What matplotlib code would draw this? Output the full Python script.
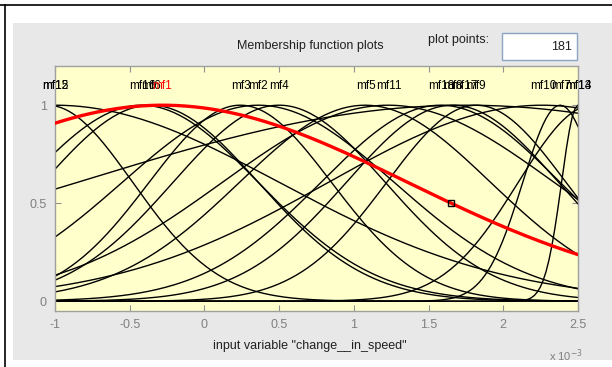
import numpy as np
import matplotlib
matplotlib.use("Agg")
import matplotlib.pyplot as plt
from matplotlib.patches import Rectangle
from matplotlib.lines import Line2D

# ---- data (x in units of 1e-3) ----
mf_names   = ["mf1", "mf2", "mf3", "mf4", "mf5", "mf6", "mf7", "mf8", "mf9",
              "mf10", "mf11", "mf12", "mf13", "mf14", "mf15", "mf16", "mf17", "mf18"]
mf_centers = [-0.28, 0.36, 0.24, 0.50, 1.075, -0.36, 2.38, 1.66, 1.82,
              2.26, 1.23, -1.00, 2.50, 2.60, -1.05, -0.42, 1.75, 1.58]
mf_sigmas  = [1.64, 0.91, 0.61, 0.71, 0.84, 0.72, 0.25, 0.71, 0.60,
              1.43, 1.11, 1.50, 0.11, 0.50, 0.57, 0.78, 2.60, 0.80]
selected_mf = "mf1"
marker_x = 1.65
x_range = (-1.0, 2.5)
plot_points = 181
x_ticks = [-1, -0.5, 0, 0.5, 1, 1.5, 2, 2.5]
x_tick_labels = ["-1", "-0.5", "0", "0.5", "1", "1.5", "2", "2.5"]
y_ticks = [0, 0.5, 1]
y_tick_labels = ["0", "0.5", "1"]

W, H = 612, 367
fig = plt.figure(figsize=(W / 100, H / 100), dpi=100)
fig.patch.set_facecolor("white")
plt.rcParams['font.family'] = ['Liberation Sans', 'DejaVu Sans']

def fx(px):
    return px / W

def fy(py):
    return 1 - py / H

# frame lines and gray panel
fig.add_artist(Line2D([0, 1], [fy(5), fy(5)], color="black", lw=1.2))
fig.add_artist(Line2D([fx(5), fx(5)], [fy(5), 0], color="black", lw=1.2))
fig.add_artist(Rectangle((fx(13), fy(360)), fx(612) - fx(13), fy(23) - fy(360),
                         facecolor="#e8e8e8", edgecolor="none", zorder=0))

# title, plot points box
fig.text(fx(310), fy(46), "Membership function plots", ha="center", va="center",
         fontsize=9, color="#202020")
fig.text(fx(458), fy(40), "plot points:", ha="center", va="center",
         fontsize=9, color="#202020")
fig.add_artist(Rectangle((fx(502), fy(60)), fx(577) - fx(502), fy(33) - fy(60),
                         facecolor="white", edgecolor="#8aa4c4", lw=1.0, zorder=1))
fig.text(fx(572), fy(47), str(plot_points), ha="right", va="center",
         fontsize=9, color="#202020")

# axes
ax = fig.add_axes([fx(55), fy(311), fx(578) - fx(55), fy(66) - fy(311)])
ax.set_facecolor("#ffffcc")
ax.set_xlim(*x_range)
ax.set_ylim(-0.05, 1.2)

x = np.linspace(x_range[0], x_range[1], plot_points)
for name, c, s in zip(mf_names, mf_centers, mf_sigmas):
    y = np.exp(-(x - c) ** 2 / (2 * s ** 2))
    if name == selected_mf:
        continue
    ax.plot(x, y, color="black", lw=1.0, zorder=2)
    peak_x = x[np.argmax(y)]
    ax.text(peak_x, 1.1, name, ha="center", va="center", fontsize=8.5,
            color="black", zorder=4, clip_on=False)

# selected (red) MF on top
i = mf_names.index(selected_mf)
c, s = mf_centers[i], mf_sigmas[i]
y = np.exp(-(x - c) ** 2 / (2 * s ** 2))
ax.plot(x, y, color="red", lw=2.4, zorder=3)
ax.text(x[np.argmax(y)], 1.1, selected_mf, ha="center", va="center", fontsize=8.5,
        color="red", zorder=5, clip_on=False)
my = np.exp(-(marker_x - c) ** 2 / (2 * s ** 2))
ax.plot([marker_x], [my], marker="s", ms=5, mfc="none", mec="black", mew=1.0, zorder=6)

ax.set_xticks(x_ticks)
ax.set_xticklabels(x_tick_labels)
ax.set_yticks(y_ticks)
ax.set_yticklabels(y_tick_labels)
ax.tick_params(direction="in", length=4, color="#909090", labelcolor="#808080",
               labelsize=9, top=True, right=True, pad=6)
for sp in ax.spines.values():
    sp.set_color("#a0a0a0")
    sp.set_linewidth(1.0)

fig.text(fx(310), fy(346), 'input variable "change__in_speed"', ha="center",
         va="center", fontsize=9, color="#202020")
fig.text(fx(566), fy(356), r"x 10$^{-3}$", ha="center", va="center",
         fontsize=8, color="#808080")

fig.savefig("out.png", dpi=100)
